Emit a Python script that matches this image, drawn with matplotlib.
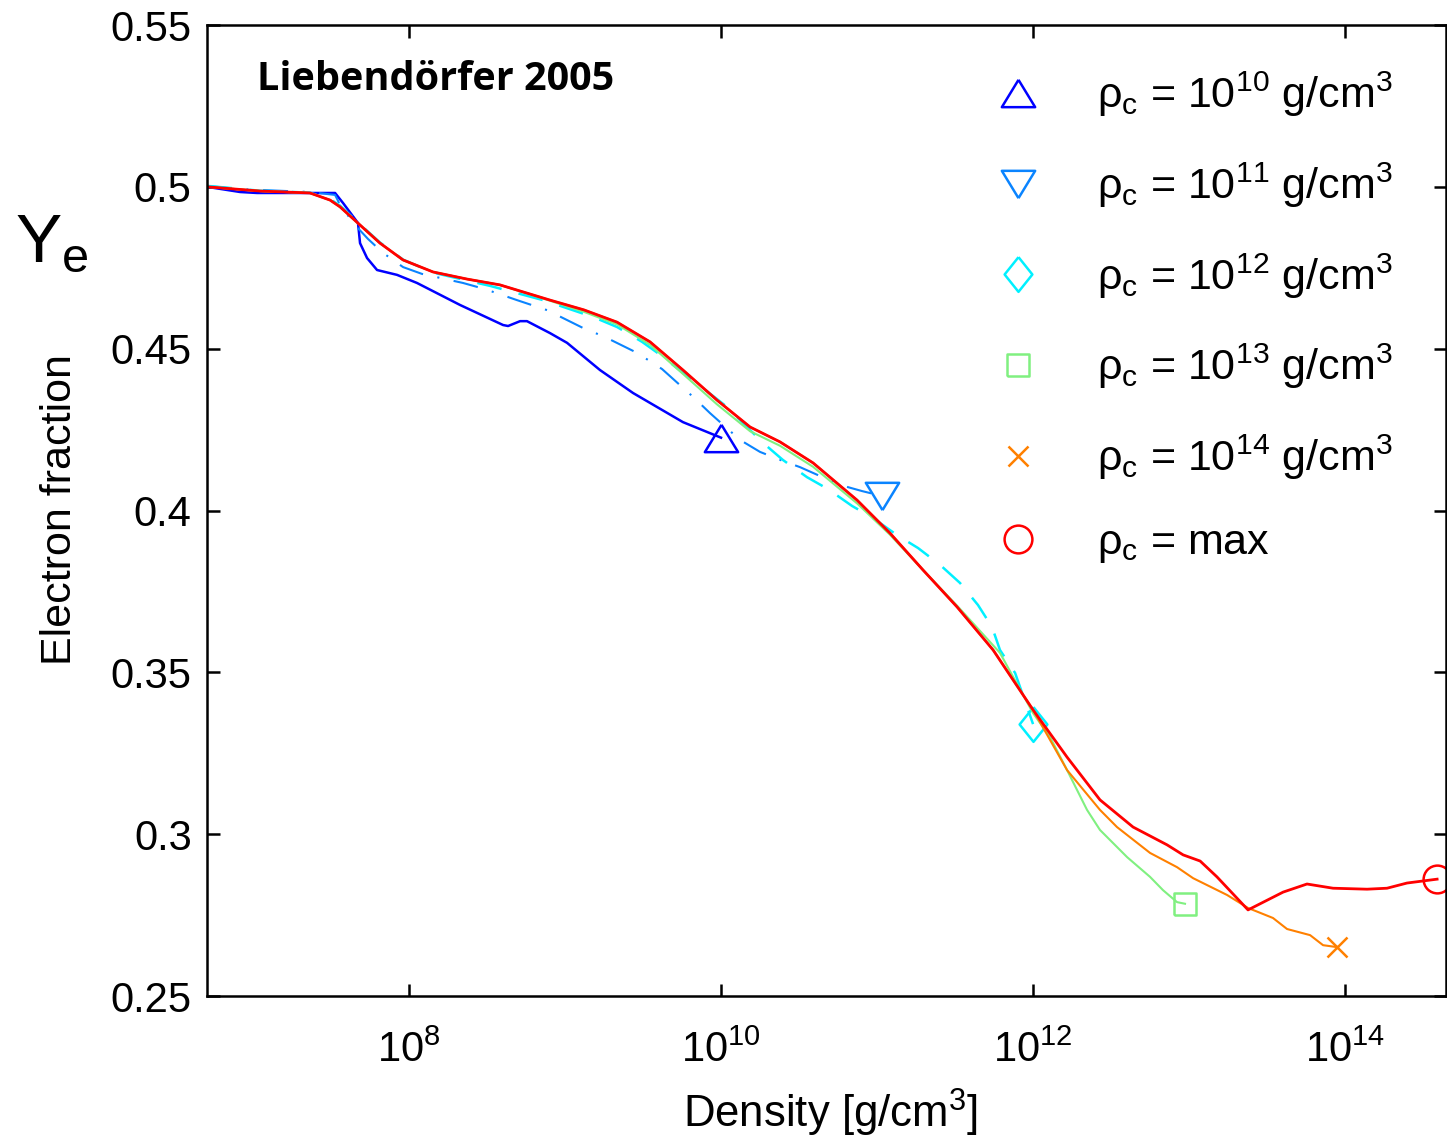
import numpy as np
import matplotlib
matplotlib.use('Agg')
import matplotlib.pyplot as plt
from matplotlib.lines import Line2D
from matplotlib.ticker import FormatStrFormatter, NullLocator

plt.rcParams['font.family'] = ['Liberation Sans', 'DejaVu Sans']
plt.rcParams['mathtext.fontset'] = 'custom'
plt.rcParams['mathtext.rm'] = 'Liberation Sans'
plt.rcParams['mathtext.it'] = 'Liberation Sans:italic'
plt.rcParams['mathtext.bf'] = 'Liberation Sans:bold'

# Ye tracks of the central zone, log10 density in g/cm^3
lg_rho_10 = [6.705, 6.917, 7.026, 7.365, 7.526, 7.577, 7.673, 7.686, 7.731, 7.795,
             7.923, 8.051, 8.327, 8.603, 8.635, 8.712, 8.756, 8.904, 9.013, 9.224,
             9.436, 9.756, 10.0]
ye_10 = [0.5000, 0.4984, 0.4981, 0.4981, 0.4981, 0.4950, 0.4888, 0.4826, 0.4780, 0.4743,
         0.4728, 0.4703, 0.4635, 0.4573, 0.4570, 0.4585, 0.4585, 0.4548, 0.4518, 0.4434,
         0.4363, 0.4273, 0.4225]

lg_rho_11 = [6.705, 6.917, 7.365, 7.526, 7.558, 7.654, 7.737, 7.833, 7.962, 8.083,
             8.346, 8.487, 8.692, 8.885, 9.115, 9.256, 9.462, 9.622, 9.821, 9.929,
             10.122, 10.25, 10.397, 10.506, 10.763, 10.904, 11.03]
ye_11 = [0.5003, 0.4993, 0.4984, 0.4975, 0.4944, 0.4882, 0.4839, 0.4796, 0.4752, 0.4731,
         0.4703, 0.4684, 0.4650, 0.4619, 0.4564, 0.4536, 0.4487, 0.4437, 0.4351, 0.4301,
         0.4218, 0.4181, 0.4153, 0.4134, 0.4079, 0.4060, 0.4045]

lg_rho_12 = [6.705, 7.045, 7.365, 7.494, 7.558, 7.686, 7.814, 7.962, 8.154, 8.519,
             8.859, 9.179, 9.333, 9.494, 9.622, 9.756, 9.885, 10.038, 10.141, 10.269,
             10.397, 10.551, 10.686, 10.840, 10.974, 11.128, 11.263, 11.404, 11.532, 11.647,
             11.737, 11.788, 11.885, 12.0]
ye_12 = [0.5003, 0.4988, 0.4982, 0.4962, 0.4942, 0.4884, 0.4828, 0.4775, 0.4735, 0.4694,
         0.4650, 0.4598, 0.4567, 0.4521, 0.4477, 0.4425, 0.4378, 0.4320, 0.4270, 0.4209,
         0.4156, 0.4103, 0.4066, 0.4014, 0.3977, 0.3924, 0.3884, 0.3832, 0.3776, 0.3708,
         0.3640, 0.3569, 0.3498, 0.3340]

lg_rho_13 = [6.705, 7.045, 7.365, 7.494, 7.558, 7.686, 7.814, 7.962, 8.154, 8.372,
             8.583, 8.904, 9.120, 9.333, 9.545, 9.756, 9.974, 10.186, 10.378, 10.590,
             10.872, 11.083, 11.295, 11.513, 11.788, 12.0, 12.109, 12.218, 12.346, 12.429,
             12.603, 12.750, 12.833, 12.923, 12.974]
ye_13 = [0.5000, 0.4987, 0.4981, 0.4959, 0.4938, 0.4882, 0.4826, 0.4774, 0.4737, 0.4715,
         0.4697, 0.4648, 0.4614, 0.4575, 0.4512, 0.4422, 0.4328, 0.4245, 0.4200, 0.4135,
         0.4022, 0.3925, 0.3816, 0.3706, 0.3560, 0.3374, 0.3300, 0.3198, 0.3075, 0.3013,
         0.2929, 0.2868, 0.2827, 0.2790, 0.2785]

lg_rho_14 = [6.705, 7.045, 7.365, 7.494, 7.558, 7.686, 7.814, 7.962, 8.154, 8.372,
             8.583, 8.904, 9.120, 9.333, 9.545, 9.756, 9.974, 10.186, 10.378, 10.590,
             10.872, 11.083, 11.295, 11.513, 11.744, 12.0, 12.218, 12.429, 12.538, 12.750,
             12.923, 13.026, 13.244, 13.378, 13.538, 13.628, 13.776, 13.859, 13.949]
ye_14 = [0.5000, 0.4987, 0.4981, 0.4959, 0.4938, 0.4882, 0.4826, 0.4774, 0.4737, 0.4715,
         0.4697, 0.4650, 0.4620, 0.4582, 0.4521, 0.4434, 0.4341, 0.4258, 0.4212, 0.4147,
         0.4032, 0.3930, 0.3816, 0.3702, 0.3569, 0.3384, 0.3198, 0.3075, 0.3022, 0.2942,
         0.2898, 0.2864, 0.2812, 0.2772, 0.2741, 0.2707, 0.2688, 0.2657, 0.2651]

lg_rho_max = [6.705, 7.045, 7.365, 7.494, 7.558, 7.686, 7.814, 7.962, 8.154, 8.372,
              8.583, 8.904, 9.120, 9.333, 9.545, 9.756, 9.974, 10.186, 10.378, 10.590,
              10.872, 11.083, 11.295, 11.513, 11.744, 12.0, 12.218, 12.429, 12.641, 12.859,
              12.962, 13.071, 13.179, 13.378, 13.603, 13.756, 13.923, 14.141, 14.269, 14.397,
              14.59]
ye_max = [0.5000, 0.4987, 0.4981, 0.4959, 0.4938, 0.4882, 0.4826, 0.4774, 0.4737, 0.4715,
          0.4697, 0.4650, 0.4620, 0.4582, 0.4521, 0.4434, 0.4341, 0.4258, 0.4212, 0.4147,
          0.4032, 0.3930, 0.3816, 0.3702, 0.3569, 0.3384, 0.3238, 0.3106, 0.3022, 0.2967,
          0.2936, 0.2917, 0.2868, 0.2766, 0.2821, 0.2846, 0.2833, 0.2830, 0.2833, 0.2849,
          0.2861]

labels = [r'ρ$_\mathregular{c}$ = 10$^\mathregular{10}$ g/cm$^\mathregular{3}$',
          r'ρ$_\mathregular{c}$ = 10$^\mathregular{11}$ g/cm$^\mathregular{3}$',
          r'ρ$_\mathregular{c}$ = 10$^\mathregular{12}$ g/cm$^\mathregular{3}$',
          r'ρ$_\mathregular{c}$ = 10$^\mathregular{13}$ g/cm$^\mathregular{3}$',
          r'ρ$_\mathregular{c}$ = 10$^\mathregular{14}$ g/cm$^\mathregular{3}$',
          r'ρ$_\mathregular{c}$ = max']

tri_up = [(0, 0.82), (-1, -0.82), (1, -0.82), (0, 0.82)]
tri_dn = [(0, -0.82), (-1, 0.82), (1, 0.82), (0, -0.82)]
diamond = [(0, 1), (0.8, 0), (0, -1), (-0.8, 0), (0, 1)]
square = [(-1, -1), (1, -1), (1, 1), (-1, 1), (-1, -1)]

tracks = [
    (lg_rho_10, ye_10, '#0000ff', '-', 1.8, tri_up, 24),
    (lg_rho_11, ye_11, '#0a84ff', (0, (12, 7, 1, 7)), 1.5, tri_dn, 24),
    (lg_rho_12, ye_12, '#00f0ff', (0, (10, 7)), 1.8, diamond, 25),
    (lg_rho_13, ye_13, '#80f080', '-', 1.5, square, 16.5),
    (lg_rho_14, ye_14, '#ff8000', '-', 1.5, 'x', 14.5),
    (lg_rho_max, ye_max, '#ff0000', '-', 2.0, 'o', 20),
]

fig = plt.figure(figsize=(14.47, 11.41), dpi=100)
ax = fig.add_axes([207 / 1447, 1 - 996 / 1141, 1239 / 1447, 971 / 1141])

handles = []
for lg, ye, col, ls, lw, mk, ms in tracks:
    rho = 10 ** np.array(lg)
    ax.plot(rho, ye, color=col, ls=ls, lw=lw)
    ax.plot(rho[-1], ye[-1], ls='none', marker=mk, ms=ms, mfc='none',
            mec=col, mew=1.8, clip_on=False)
    handles.append(Line2D([], [], ls='none', marker=mk, ms=ms, mfc='none',
                          mec=col, mew=1.8))

ax.set_xscale('log')
ax.set_xlim(10 ** 6.705, 10 ** 14.647)
ax.set_ylim(0.25, 0.55)
ax.set_xticks([1e8, 1e10, 1e12, 1e14])
ax.xaxis.set_minor_locator(NullLocator())
ax.set_yticks(np.arange(0.25, 0.551, 0.05))
ax.yaxis.set_major_formatter(FormatStrFormatter('%g'))
ax.tick_params(direction='in', length=9, width=1.8, top=True, right=True,
               labelsize=30)
ax.tick_params(axis='x', pad=25)
ax.tick_params(axis='y', pad=11)
for s in ax.spines.values():
    s.set_linewidth(1.8)

ax.legend(handles, labels, loc='upper left', bbox_to_anchor=(0.6372, 0.954),
          frameon=False, fontsize=31, handlelength=1.0, handletextpad=1.34,
          labelspacing=0.96, borderpad=0, borderaxespad=0, numpoints=1)

ax.text(0.040, 0.933, 'Liebendörfer 2005', transform=ax.transAxes,
        fontsize=28.5, fontweight='bold', family='Open Sans', va='baseline')

fig.text(15 / 1447, 1 - 262 / 1141, r'Y$_\mathregular{e}$', fontsize=50,
         va='baseline', ha='left')
fig.text(60 / 1447, 1 - 510 / 1141, 'Electron fraction', rotation=90,
         fontsize=31, ha='center', va='center')
fig.text(830 / 1447, 1 - 1113 / 1141, r'Density [g/cm$^\mathregular{3}$]',
         fontsize=31.5, ha='center', va='center')

fig.savefig('out.png', dpi=100)
